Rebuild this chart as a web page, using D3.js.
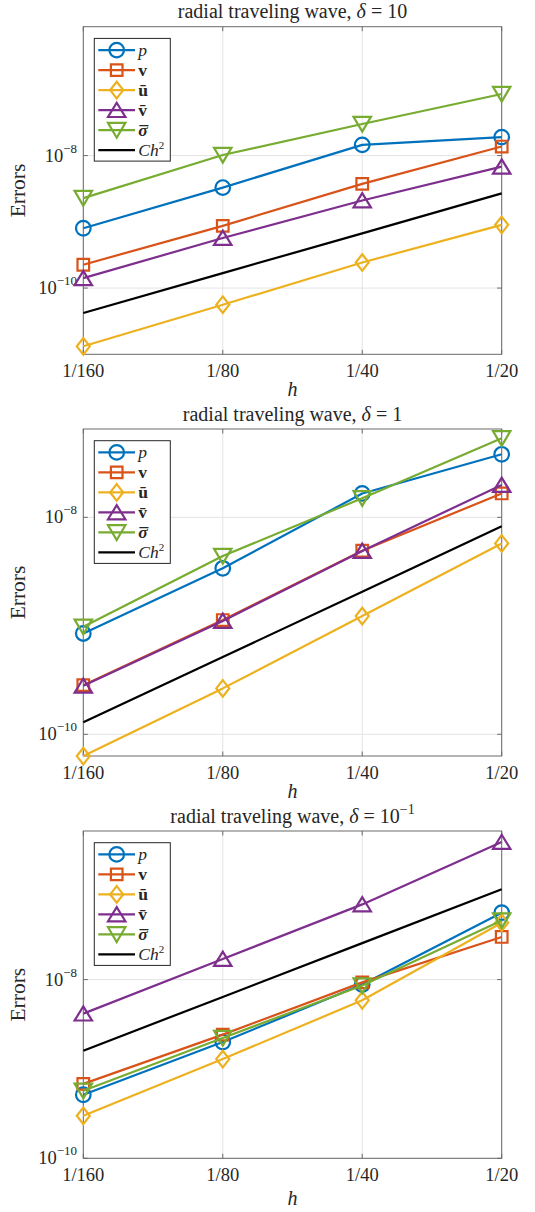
<!DOCTYPE html>
<html><head><meta charset="utf-8">
<script src="https://cdn.jsdelivr.net/npm/d3@7"></script>
<style>
body{margin:0;background:#fff}
svg{display:block}
text{font-family:"Liberation Serif","Times New Roman",serif;fill:#262626}
</style>
</head><body><svg id="c" width="535" height="1212"></svg>
<script>
// ---------- data ----------
const hLabels = ["1/160", "1/80", "1/40", "1/20"];
const hValues = [1/160, 1/80, 1/40, 1/20];
const seriesColors = ["#0072BD", "#D95319", "#EDB120", "#7E2F8E", "#77AC30", "#000000"];
const seriesMarkers = ["circle", "square", "diamond", "triUp", "triDown", "none"];
const panelTitles = ["10", "1", "10"];
const panelTitleExps = ["", "", "−1"];
const yTickValues = [1e-10, 1e-8];
const yTickExps = ["−10", "−8"];

// delta = 10
const d10_p      = [8.0e-10, 3.29e-9, 1.45e-8, 1.9e-8];
const d10_v      = [2.25e-10, 8.7e-10, 3.74e-9, 1.37e-8];
const d10_ubar   = [1.32e-11, 5.6e-11, 2.43e-10, 9.0e-10];
const d10_vbar   = [1.41e-10, 5.7e-10, 2.1e-9, 6.8e-9];
const d10_sigbar = [2.28e-9, 1.02e-8, 3.0e-8, 8.5e-8];
const d10_ch2    = [4.2e-11, 1.68e-10, 6.7e-10, 2.69e-9];
// delta = 1
const d1_p      = [8.5e-10, 3.39e-9, 1.66e-8, 3.81e-8];
const d1_v      = [2.84e-10, 1.13e-9, 4.92e-9, 1.66e-8];
const d1_ubar   = [6.3e-11, 2.65e-10, 1.23e-9, 5.75e-9];
const d1_vbar   = [2.8e-10, 1.11e-9, 4.9e-9, 1.99e-8];
const d1_sigbar = [9.8e-10, 4.4e-9, 1.5e-8, 5.35e-8];
const d1_ch2    = [1.29e-10, 5.16e-10, 2.06e-9, 8.26e-9];
// delta = 10^-1
const d01_p      = [5.14e-10, 2.0e-9, 8.8e-9, 5.6e-8];
const d01_v      = [6.8e-10, 2.42e-9, 9.3e-9, 3.0e-8];
const d01_ubar   = [2.99e-10, 1.29e-9, 5.86e-9, 4.33e-8];
const d01_vbar   = [4.16e-9, 1.7e-8, 6.94e-8, 3.46e-7];
const d01_sigbar = [5.7e-10, 2.22e-9, 8.57e-9, 4.58e-8];
const d01_ch2    = [1.6e-9, 6.4e-9, 2.56e-8, 1.024e-7];

const panelYMin = [1.0e-11, 6.31e-11, 1.0e-10];
const panelYMax = [8.83e-7, 6.52e-8, 4.6e-7];

const panelSeries = [
  [d10_p, d10_v, d10_ubar, d10_vbar, d10_sigbar, d10_ch2],
  [d1_p, d1_v, d1_ubar, d1_vbar, d1_sigbar, d1_ch2],
  [d01_p, d01_v, d01_ubar, d01_vbar, d01_sigbar, d01_ch2]
];

// ---------- layout ----------
const axLeft = 83.3, axRight = 501.7;
const panelTop = [26.7, 429, 831];
const panelBottom = [354.3, 756, 1158.3];
const panelCut = [0, 397.5, 802];
const hLabelOffset = [41.5, 41.5, 47];

const svg = d3.select("#c");

function markerPath(t) {
  switch (t) {
    case "circle": return "M7.3,0A7.3,7.3 0 1,1 -7.3,0A7.3,7.3 0 1,1 7.3,0Z";
    case "square": return "M-5.8,-5.8H5.8V5.8H-5.8Z";
    case "diamond": return "M0,-8.3L6.5,0L0,8.3L-6.5,0Z";
    case "triUp": return "M0,-7.3L8.7,6.9L-8.7,6.9Z";
    case "triDown": return "M0,7.6L8.7,-7.2L-8.7,-7.2Z";
  }
  return null;
}

function legendLabel(textSel, i) {
  if (i === 0) textSel.append("tspan").attr("font-style", "italic").text("p");
  else if (i === 1) textSel.append("tspan").attr("font-weight", "bold").text("v");
  else if (i === 2) textSel.append("tspan").attr("font-weight", "bold").text("u\u0304");
  else if (i === 3) textSel.append("tspan").attr("font-weight", "bold").text("v\u0304");
  else if (i === 4) {
    textSel.append("tspan").attr("font-weight", "bold").attr("font-style", "italic").text("\u03C3");
    textSel.append("tspan").attr("font-weight", "bold").attr("dx", -8.2).attr("dy", 2).text("\u00AF");
  } else {
    textSel.append("tspan").attr("font-style", "italic").text("Ch");
    textSel.append("tspan").attr("font-size", 11).attr("dy", -7).text("2");
  }
}

const x = d3.scaleLog().domain([hValues[0], hValues[3]]).range([axLeft, axRight]);

panelSeries.forEach((series, pi) => {
  const top = panelTop[pi], bot = panelBottom[pi];
  const g = svg.append("g");
  // white background of this panel
  g.append("rect").attr("x", 0).attr("y", panelCut[pi]).attr("width", 535).attr("height", 1212 - panelCut[pi]).attr("fill", "#fff");

  const y = d3.scaleLog().domain([panelYMin[pi], panelYMax[pi]]).range([bot, top]);

  // grid
  const grid = g.append("g").attr("stroke", "#e3e3e3").attr("stroke-width", 1);
  hValues.forEach(h => grid.append("line").attr("x1", x(h)).attr("x2", x(h)).attr("y1", top).attr("y2", bot));
  yTickValues.forEach(v => grid.append("line").attr("x1", axLeft).attr("x2", axRight).attr("y1", y(v)).attr("y2", y(v)));

  // axes box + ticks
  const ax = g.append("g").attr("stroke", "#6a6a6a").attr("stroke-width", 1).attr("fill", "none");
  ax.append("rect").attr("x", axLeft).attr("y", top).attr("width", axRight - axLeft).attr("height", bot - top);
  hValues.forEach(h => {
    ax.append("line").attr("x1", x(h)).attr("x2", x(h)).attr("y1", bot).attr("y2", bot - 4.5);
    ax.append("line").attr("x1", x(h)).attr("x2", x(h)).attr("y1", top).attr("y2", top + 4.5);
  });
  yTickValues.forEach(v => {
    ax.append("line").attr("x1", axLeft).attr("x2", axLeft + 4.5).attr("y1", y(v)).attr("y2", y(v));
    ax.append("line").attr("x1", axRight).attr("x2", axRight - 4.5).attr("y1", y(v)).attr("y2", y(v));
  });

  // x tick labels
  hLabels.forEach((lab, i) => {
    g.append("text").attr("x", x(hValues[i])).attr("y", bot + 23).attr("text-anchor", "middle")
      .attr("font-size", 18.5).text(lab);
  });
  // y tick labels
  yTickValues.forEach((v, i) => {
    const t = g.append("text").attr("x", 77).attr("y", y(v) + 6).attr("text-anchor", "end").attr("font-size", 18.5);
    t.append("tspan").text("10");
    t.append("tspan").attr("font-size", 13).attr("dy", -9).text(yTickExps[i]);
  });

  // axis labels
  g.append("text").attr("transform", `translate(24.5,${(top + bot) / 2}) rotate(-90)`)
    .attr("text-anchor", "middle").attr("font-size", 21.5).text("Errors");
  g.append("text").attr("x", (axLeft + axRight) / 2).attr("y", bot + hLabelOffset[pi]).attr("text-anchor", "middle")
    .attr("font-size", 20).attr("font-style", "italic").text("h");

  // title
  const tt = g.append("text").attr("x", (axLeft + axRight) / 2).attr("y", top - 8.5).attr("text-anchor", "middle").attr("font-size", 20);
  tt.append("tspan").text("radial traveling wave, ");
  tt.append("tspan").attr("font-style", "italic").text("δ");
  tt.append("tspan").text(" = " + panelTitles[pi]);
  if (panelTitleExps[pi]) tt.append("tspan").attr("font-size", 14).attr("dy", -8.5).text(panelTitleExps[pi]);

  // series
  const line = d3.line().x((d, i) => x(hValues[i])).y(d => y(d));
  series.forEach((vals, si) => {
    g.append("path").attr("d", line(vals)).attr("fill", "none").attr("stroke", seriesColors[si]).attr("stroke-width", 2.2)
      .attr("stroke-linejoin", "round");
    const mp = markerPath(seriesMarkers[si]);
    if (mp) {
      g.selectAll(null).data(vals).enter().append("path")
        .attr("d", mp)
        .attr("transform", (d, i) => `translate(${x(hValues[i])},${y(d)})`)
        .attr("fill", "none").attr("stroke", seriesColors[si]).attr("stroke-width", 2.2);
    }
  });

  // legend
  const lx = 94.3, ly = top + 11.7;
  const lg = g.append("g");
  lg.append("rect").attr("x", lx).attr("y", ly).attr("width", 76).attr("height", 122.7)
    .attr("fill", "#fff").attr("stroke", "#262626").attr("stroke-width", 1);
  seriesColors.forEach((c, si) => {
    const yy = ly + 11.7 + si * 20;
    lg.append("line").attr("x1", lx + 4).attr("x2", lx + 40.7).attr("y1", yy).attr("y2", yy)
      .attr("stroke", c).attr("stroke-width", 2.2);
    const mp = markerPath(seriesMarkers[si]);
    if (mp) lg.append("path").attr("d", mp).attr("transform", `translate(${lx + 22.4},${yy})`)
      .attr("fill", "none").attr("stroke", c).attr("stroke-width", 2.2);
    const t = lg.append("text").attr("x", lx + 44).attr("y", yy + 5.5).attr("font-size", 17.5);
    legendLabel(t, si);
  });
});
</script>
</body></html>
